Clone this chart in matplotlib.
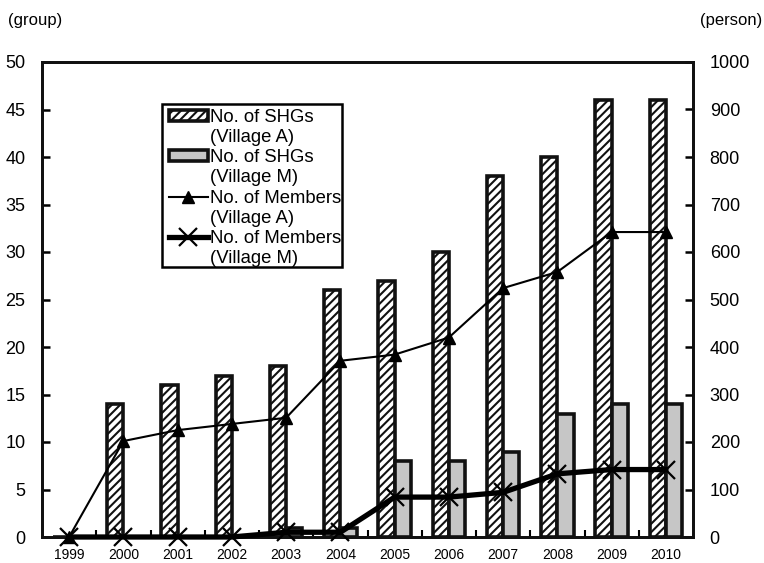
import matplotlib
matplotlib.use("Agg")
import matplotlib.pyplot as plt
import numpy as np
from matplotlib.ticker import MultipleLocator, FixedLocator
from matplotlib.patches import Rectangle
from matplotlib.lines import Line2D

years = ["1999", "2000", "2001", "2002", "2003", "2004", "2005", "2006", "2007", "2008", "2009", "2010"]
shg_a = [0, 14, 16, 17, 18, 26, 27, 30, 38, 40, 46, 46]
shg_m = [0, 0, 0, 0, 1, 1, 8, 8, 9, 13, 14, 14]
mem_a = [0, 202, 225, 238, 251, 371, 384, 420, 524, 558, 642, 642]
mem_m = [0, 0, 0, 0, 10, 10, 84, 84, 94, 133, 142, 142]

plt.rcParams['font.family'] = ['Liberation Sans', 'DejaVu Sans']
plt.rcParams['hatch.linewidth'] = 1.5

fig = plt.figure(figsize=(7.64, 5.63), dpi=100)
ax = fig.add_axes([42/764, 1-537/563, (693-42)/764, (537-62)/563])
ax2 = ax.twinx()

x = np.arange(len(years))
w = 0.3
ba = ax.bar(x - w/2, shg_a, width=w, facecolor='white', edgecolor='#111111',
            linewidth=2.6, hatch='////', zorder=2)
bm = ax.bar(x + w/2, shg_m, width=w, facecolor='#c6c6c6', edgecolor='#111111',
            linewidth=2.6, zorder=2)

la, = ax2.plot(x, mem_a, color='black', linewidth=1.5, marker='^', markersize=9,
               clip_on=False, zorder=3)
lm, = ax2.plot(x, mem_m, color='black', linewidth=3.8, marker='x', markersize=13,
               markeredgewidth=1.6, clip_on=False, zorder=3)

ax.set_xlim(-0.5, len(years) - 0.5)
ax.set_ylim(0, 50)
ax2.set_ylim(0, 1000)
ax.yaxis.set_major_locator(MultipleLocator(5))
ax2.yaxis.set_major_locator(MultipleLocator(100))
ax.set_xticks(x)
ax.set_xticklabels(years, fontsize=10)
ax.xaxis.set_minor_locator(FixedLocator(np.arange(0.5, len(years) - 1, 1.0)))
ax.tick_params(axis='x', which='major', length=0, pad=8)
ax.tick_params(axis='x', which='minor', direction='in', length=5, width=1.5)
ax.tick_params(axis='y', direction='in', length=6, width=1.8, labelsize=13, pad=12)
ax2.tick_params(axis='y', direction='in', length=6, width=1.8, labelsize=13, pad=12)

for a in (ax, ax2):
    for s in a.spines.values():
        s.set_linewidth(2)
        s.set_color('#111111')

fig.text(8/764, 1-20/563, '(group)', fontsize=12, ha='left', va='center')
fig.text(762/764, 1-20/563, '(person)', fontsize=12, ha='right', va='center')

# legend box (frame drawn separately, text overflows slightly as in the original)
box = Rectangle((162/764, 1-267/563), (342-162)/764, (267-104)/563,
                transform=fig.transFigure, facecolor='white', edgecolor='black',
                linewidth=1.8, zorder=9)
ax2.add_artist(box)
box.set_clip_on(False)

blank = Line2D([], [], linestyle='none')
handles = [ba, blank, bm, blank, la, blank, lm, blank]
labels = ['No. of SHGs', '(Village A)', 'No. of SHGs', '(Village M)',
          'No. of Members', '(Village A)', 'No. of Members', '(Village M)']
leg = ax2.legend(handles=handles, labels=labels, loc='upper left',
                 bbox_to_anchor=((169-42)/651, 1-(109-62)/475),
                 fontsize=13.3, frameon=False,
                 borderpad=0.0, labelspacing=0.17, handlelength=2.1,
                 handletextpad=0.12, handleheight=0.55, borderaxespad=0)
leg.set_zorder(10)

fig.savefig('out.png', dpi=100)
